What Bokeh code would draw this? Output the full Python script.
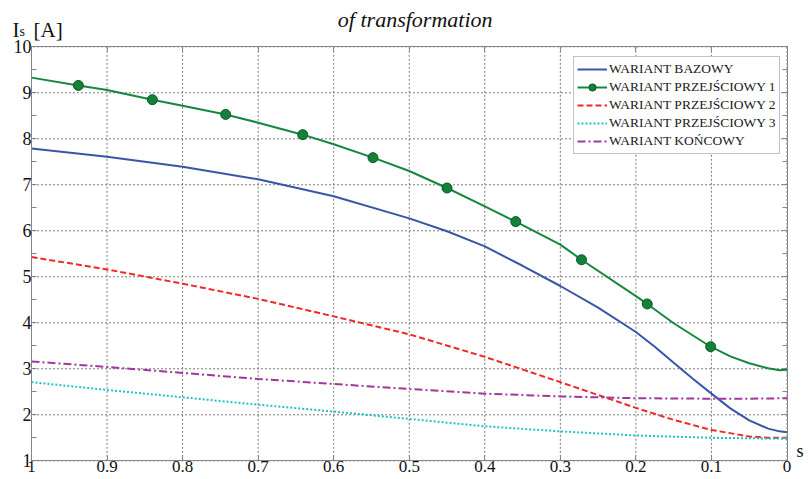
from bokeh.plotting import figure
from bokeh.models import Range1d, FixedTicker, LinearAxis, Label, Legend, LegendItem
from bokeh.embed import file_html
from bokeh.resources import INLINE

# ---- data (slip s, stator current Is [A]) ----
s_bazowy = [1.0, 0.9, 0.8, 0.7, 0.6, 0.5, 0.45, 0.4, 0.35, 0.3, 0.25, 0.2, 0.175, 0.15, 0.125, 0.1, 0.075, 0.05, 0.025, 0.01, 0.0]
i_bazowy = [7.79, 7.61, 7.39, 7.12, 6.75, 6.27, 5.99, 5.66, 5.24, 4.80, 4.33, 3.80, 3.48, 3.13, 2.79, 2.46, 2.14, 1.88, 1.70, 1.64, 1.62]

s_p1 = [1.0, 0.938, 0.9, 0.84, 0.8, 0.743, 0.7, 0.641, 0.6, 0.548, 0.5, 0.45, 0.4, 0.359, 0.3, 0.272, 0.2, 0.185, 0.15, 0.101, 0.075, 0.05, 0.025, 0.01, 0.0]
i_p1 = [9.33, 9.16, 9.06, 8.85, 8.72, 8.53, 8.35, 8.09, 7.88, 7.59, 7.30, 6.93, 6.53, 6.20, 5.70, 5.37, 4.58, 4.41, 3.99, 3.48, 3.27, 3.12, 3.01, 2.97, 2.98]
s_p1_markers = [0.938, 0.84, 0.743, 0.641, 0.548, 0.45, 0.359, 0.272, 0.185, 0.101]
i_p1_markers = [9.16, 8.85, 8.53, 8.09, 7.59, 6.93, 6.20, 5.37, 4.41, 3.48]

s_p2 = [1.0, 0.9, 0.8, 0.7, 0.6, 0.5, 0.4, 0.3, 0.2, 0.15, 0.1, 0.05, 0.025, 0.0]
i_p2 = [5.43, 5.16, 4.85, 4.52, 4.14, 3.75, 3.26, 2.71, 2.15, 1.89, 1.67, 1.53, 1.50, 1.50]

s_p3 = [1.0, 0.9, 0.8, 0.7, 0.6, 0.5, 0.4, 0.3, 0.2, 0.1, 0.0]
i_p3 = [2.71, 2.54, 2.38, 2.22, 2.07, 1.91, 1.75, 1.64, 1.55, 1.50, 1.48]

s_konc = [1.0, 0.9, 0.8, 0.7, 0.6, 0.5, 0.4, 0.3, 0.2, 0.1, 0.05, 0.0]
i_konc = [3.16, 3.04, 2.91, 2.78, 2.67, 2.56, 2.46, 2.40, 2.36, 2.35, 2.35, 2.36]

x_ticks = [1.0, 0.9, 0.8, 0.7, 0.6, 0.5, 0.4, 0.3, 0.2, 0.1, 0.0]
x_tick_labels = ["1", "0.9", "0.8", "0.7", "0.6", "0.5", "0.4", "0.3", "0.2", "0.1", "0"]
y_ticks = [1, 2, 3, 4, 5, 6, 7, 8, 9, 10]
y_minor = [1.5, 2.5, 3.5, 4.5, 5.5, 6.5, 7.5, 8.5, 9.5]

series_names = ["WARIANT BAZOWY", "WARIANT PRZEJŚCIOWY 1", "WARIANT PRZEJŚCIOWY 2",
                "WARIANT PRZEJŚCIOWY 3", "WARIANT KOŃCOWY"]

FONT = "Liberation Serif"
GRAY = "#858585"
W, H = 808, 479
# plot box inside the canvas (pixels): left, right, top, bottom
BL, BR, BT, BB = 31.0, 786.5, 46.3, 460.3
kx = (BR - BL) / (x_ticks[0] - x_ticks[-1])
ky = (BB - BT) / (y_ticks[-1] - y_ticks[0])
x_start = x_ticks[0] + BL / kx
x_end = x_ticks[-1] - (W - BR) / kx
y_end = y_ticks[-1] + BT / ky
y_start = y_ticks[0] - (H - BB) / ky

def dx(px):  # canvas pixel -> data x
    return x_start - px / kx

def dy(py):  # canvas pixel -> data y
    return y_end - py / ky

p = figure(width=W, height=H, output_backend="svg", toolbar_location=None,
           x_range=Range1d(x_start, x_end), y_range=Range1d(y_start, y_end),
           min_border=0, background_fill_color="white", border_fill_color="white")
p.outline_line_color = None
p.xgrid.visible = False
p.ygrid.visible = False

xt = FixedTicker(ticks=x_ticks)
yt = FixedTicker(ticks=y_ticks, minor_ticks=y_minor)

def style_axis(ax, labels=True, size="18px"):
    ax.axis_line_color = GRAY
    ax.major_tick_line_color = GRAY
    ax.minor_tick_line_color = GRAY
    ax.major_tick_in = 5
    ax.major_tick_out = 0
    ax.minor_tick_in = 5
    ax.minor_tick_out = 0
    ax.major_label_text_font = FONT
    if labels:
        ax.major_label_text_font_size = size
        ax.major_label_text_color = "#111111"
    else:
        ax.major_label_text_font_size = "1px"
        ax.major_label_text_color = None
        ax.major_label_standoff = 0

xb = (x_ticks[-1], x_ticks[0])
yb = (y_ticks[0], y_ticks[-1])

# dotted grid (drawn from the tick lists, limited to the plot box)
p.segment(x0=x_ticks, y0=[yb[0]] * len(x_ticks), x1=x_ticks, y1=[yb[1]] * len(x_ticks),
          line_color="#7a7a7a", line_dash="2 2", line_width=1)
p.segment(x0=[xb[0]] * len(y_ticks), y0=y_ticks, x1=[xb[1]] * len(y_ticks), y1=y_ticks,
          line_color="#7a7a7a", line_dash="2 2", line_width=1)

xa = p.xaxis[0]
xa.ticker = xt
xa.fixed_location = yb[0]
xa.bounds = xb
xa.major_label_overrides = {t: l for t, l in zip(x_ticks, x_tick_labels)}
style_axis(xa, size="17px")
xa.major_label_standoff = 0
xa.minor_tick_line_color = None

ya = p.yaxis[0]
ya.ticker = yt
ya.fixed_location = xb[1]
ya.bounds = yb
style_axis(ya)
ya.major_label_standoff = 0

top = LinearAxis(ticker=xt, fixed_location=yb[1], bounds=xb)
style_axis(top, labels=False)
top.minor_tick_line_color = None
p.add_layout(top, "above")
right = LinearAxis(ticker=yt, fixed_location=xb[0], bounds=yb)
style_axis(right, labels=False)
p.add_layout(right, "right")

r_b = p.line(s_bazowy, i_bazowy, line_color="#3a55a8", line_width=2)
r_1 = p.line(s_p1, i_p1, line_color="#16873e", line_width=2)
r_1m = p.scatter(s_p1_markers, i_p1_markers, size=10, fill_color="#14803a",
                 line_color="#0b5a26", line_width=1)
r_2 = p.line(s_p2, i_p2, line_color="#f0282a", line_width=2, line_dash="6 3")
r_3 = p.line(s_p3, i_p3, line_color="#1fc3c6", line_width=2, line_dash="2 2")
r_k = p.line(s_konc, i_konc, line_color="#a0379e", line_width=2, line_dash="8 3 2 3")

legend = Legend(items=[
    LegendItem(label=series_names[0], renderers=[r_b]),
    LegendItem(label=series_names[1], renderers=[r_1, r_1m]),
    LegendItem(label=series_names[2], renderers=[r_2]),
    LegendItem(label=series_names[3], renderers=[r_3]),
    LegendItem(label=series_names[4], renderers=[r_k]),
], location=(573, 325))
legend.label_text_font = FONT
legend.label_text_font_size = "13.5px"
legend.label_text_color = "#1a1a1a"
legend.glyph_width = 30
legend.glyph_height = 18
legend.label_height = 18
legend.label_standoff = 2
legend.spacing = 0
legend.padding = 3
legend.margin = 0
legend.border_line_color = GRAY
legend.border_line_width = 1
legend.background_fill_color = "white"
legend.background_fill_alpha = 1
p.add_layout(legend)

def text_label(px, py, text, size, style="normal", align="left"):
    p.add_layout(Label(x=dx(px), y=dy(py), text=text, text_font=FONT, text_font_size=size,
                       text_font_style=style, text_baseline="alphabetic", text_align=align,
                       text_color="#111111"))

# y-axis label "I_s [A]" at the top left
text_label(12, 29, "I", "21px")
text_label(19, 30.5, "s", "14px")
text_label(33, 29, "[A]", "21px")
# x-axis label "s" at the right end of the axis
text_label(796, 450, "s", "18px")
# title remnant at the top
text_label(492, 19, "of transformation", "22px", style="italic", align="right")

open("out.html", "w").write(file_html(p, INLINE))
